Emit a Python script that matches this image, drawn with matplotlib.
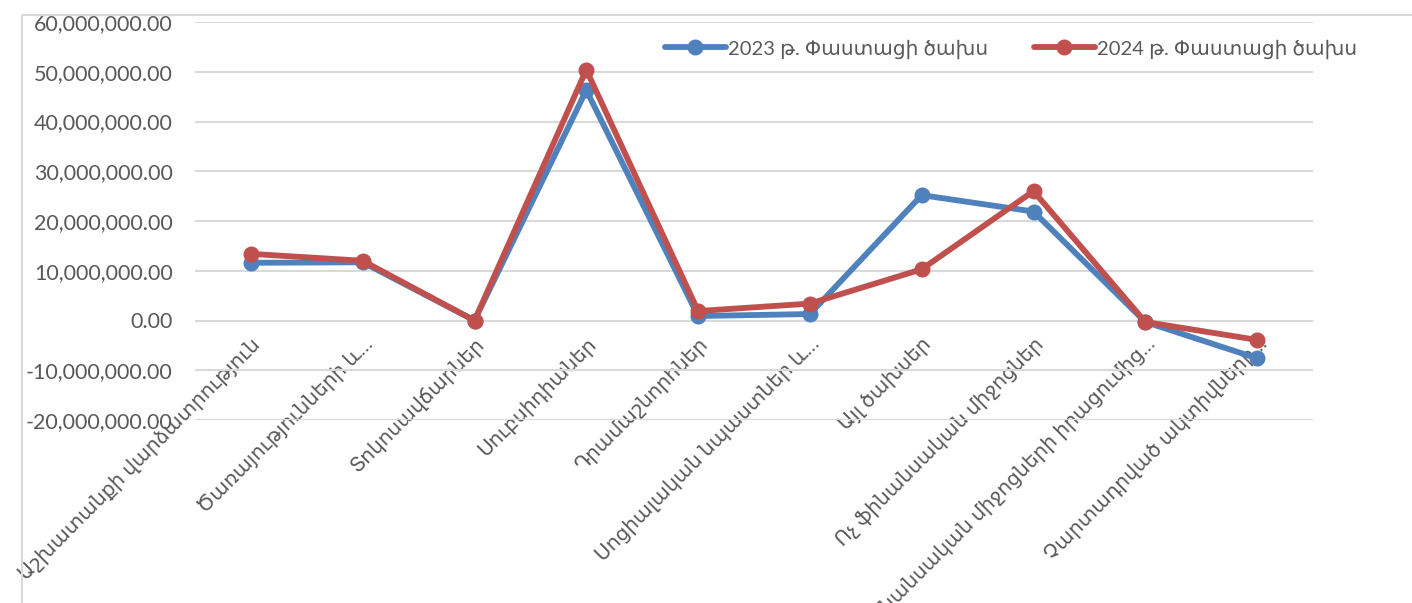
import matplotlib
matplotlib.use('Agg')
import matplotlib.pyplot as plt
from matplotlib.patches import Rectangle
from matplotlib.ticker import FuncFormatter, MultipleLocator

plt.rcParams['font.family'] = ['Lato', 'DejaVu Sans']

# ==================================================================
# data

categories = ['Աշխատանքի վարձատրություն',
              'Ծառայությունների և…',
              'Տոկոսավճարներ',
              'Սուբսիդիաներ',
              'Դրամաշնորհներ',
              'Սոցիալական նպաստներ և…',
              'Այլ ծախսեր',
              'Ոչ ֆինանսական միջոցներ',
              'Ոչ ֆինանսական միջոցների իրացումից…',
              'Չարտադրված ակտիվների…']

fact_2023 = [11.6e6, 11.7e6, 0.0, 46.3e6, 0.9e6, 1.3e6, 25.2e6, 21.9e6, -0.3e6, -7.6e6]
fact_2024 = [13.4e6, 12.0e6, 0.0, 50.4e6, 1.9e6, 3.4e6, 10.3e6, 26.0e6, -0.3e6, -3.9e6]

label_2023 = '2023 թ. Փաստացի ծախս'
label_2024 = '2024 թ. Փաստացի ծախս'

# ==================================================================

W, H = 1412, 603
fig = plt.figure(figsize=(W / 100, H / 100), dpi=100)
ax = fig.add_axes([195 / W, 1 - 420 / H, (1313 - 195) / W, (420 - 22) / H])

# chart border
fig.patches.append(Rectangle((22 / W, -0.05), 1.2, 1 - 15 / H + 0.05,
                             transform=fig.transFigure, fill=False,
                             edgecolor='#D9D9D9', linewidth=1.5))

x = list(range(len(categories)))
ax.plot(x, fact_2023, color='#4F81BD', lw=4.2, marker='o', ms=10.5,
        solid_capstyle='round', label=label_2023, zorder=3)
ax.plot(x, fact_2024, color='#C0504D', lw=4.2, marker='o', ms=10.5,
        solid_capstyle='round', label=label_2024, zorder=4)

ax.set_xlim(-0.5, len(categories) - 0.5)
ax.set_ylim(-20e6, 60e6)
ax.yaxis.set_major_locator(MultipleLocator(10e6))
ax.yaxis.set_major_formatter(FuncFormatter(lambda v, p: '{:,.2f}'.format(v)))
ax.grid(axis='y', color='#D9D9D9', lw=1.5)
ax.set_axisbelow(True)

for s in ['top', 'right', 'left']:
    ax.spines[s].set_visible(False)
# category labels sit at the zero line
ax.spines['bottom'].set_position(('data', 0))
ax.spines['bottom'].set_color('none')

ax.tick_params(axis='both', length=0, colors='#595959', labelsize=15.5)
ax.tick_params(axis='y', pad=16)
ax.tick_params(axis='x', pad=10)
ax.set_xticks(x)
ax.set_xticklabels(categories, rotation=45, ha='right', va='top',
                   rotation_mode='anchor', fontsize=14.5)

ax.legend(loc='center', bbox_to_anchor=(1011 / W, 1 - 49 / H),
          bbox_transform=fig.transFigure, ncol=2, frameon=False,
          fontsize=14.5, handlelength=3, handletextpad=0.1, columnspacing=2.3,
          labelcolor='#595959')

fig.savefig('out.png', dpi=100)
